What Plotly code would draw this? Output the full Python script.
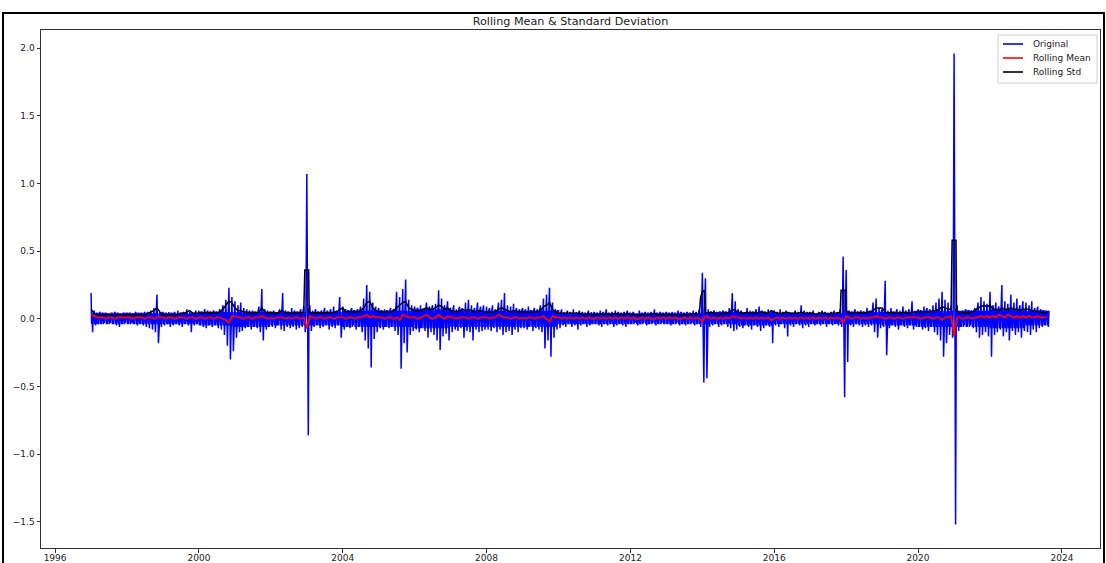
import pandas as pd
import plotly.graph_objects as go

# ---------------- data ----------------
months = pd.date_range("1997-01-01", "2023-08-01", freq="MS")

# monthly upper excursion of the Original series
orig_high = [
    0.19, 0.06, 0.04, 0.05, 0.04, 0.04, 0.03, 0.04, 0.05, 0.04, 0.03, 0.04,  # 1997
    0.04, 0.04, 0.03, 0.05, 0.04, 0.04, 0.05, 0.05, 0.06, 0.08, 0.18, 0.05,  # 1998
    0.05, 0.04, 0.05, 0.04, 0.05, 0.06, 0.04, 0.05, 0.07, 0.05, 0.04, 0.06,  # 1999
    0.06, 0.05, 0.07, 0.06, 0.05, 0.06, 0.05, 0.07, 0.10, 0.14, 0.23, 0.16,  # 2000
    0.13, 0.10, 0.12, 0.08, 0.07, 0.06, 0.06, 0.05, 0.09, 0.22, 0.07, 0.06,  # 2001
    0.05, 0.06, 0.05, 0.07, 0.19, 0.06, 0.05, 0.08, 0.06, 0.05, 0.07, 0.09,  # 2002
    1.07, 0.10, 0.06, 0.07, 0.05, 0.06, 0.08, 0.06, 0.07, 0.09, 0.06, 0.16,  # 2003
    0.09, 0.07, 0.06, 0.08, 0.06, 0.07, 0.09, 0.15, 0.25, 0.20, 0.12, 0.09,  # 2004
    0.08, 0.06, 0.07, 0.06, 0.08, 0.07, 0.20, 0.16, 0.22, 0.29, 0.14, 0.10,  # 2005
    0.09, 0.08, 0.10, 0.07, 0.12, 0.09, 0.10, 0.11, 0.21, 0.15, 0.10, 0.13,  # 2006
    0.08, 0.10, 0.07, 0.09, 0.08, 0.12, 0.14, 0.10, 0.08, 0.12, 0.09, 0.10,  # 2007
    0.09, 0.08, 0.10, 0.07, 0.12, 0.14, 0.19, 0.10, 0.09, 0.11, 0.08, 0.07,  # 2008
    0.08, 0.07, 0.09, 0.06, 0.08, 0.07, 0.10, 0.15, 0.18, 0.23, 0.12, 0.07,  # 2009
    0.06, 0.07, 0.05, 0.06, 0.05, 0.07, 0.05, 0.06, 0.05, 0.04, 0.06, 0.05,  # 2010
    0.05, 0.04, 0.06, 0.05, 0.07, 0.04, 0.05, 0.06, 0.05, 0.04, 0.05, 0.06,  # 2011
    0.04, 0.05, 0.04, 0.06, 0.04, 0.05, 0.04, 0.05, 0.07, 0.04, 0.05, 0.04,  # 2012
    0.05, 0.04, 0.05, 0.04, 0.06, 0.05, 0.04, 0.05, 0.04, 0.06, 0.05, 0.07,  # 2013
    0.34, 0.30, 0.07, 0.05, 0.06, 0.04, 0.05, 0.06, 0.05, 0.08, 0.19, 0.13,  # 2014
    0.07, 0.06, 0.05, 0.08, 0.06, 0.05, 0.07, 0.09, 0.06, 0.05, 0.07, 0.06,  # 2015
    0.06, 0.05, 0.07, 0.05, 0.06, 0.05, 0.04, 0.06, 0.05, 0.10, 0.06, 0.05,  # 2016
    0.05, 0.06, 0.04, 0.05, 0.06, 0.05, 0.04, 0.05, 0.06, 0.05, 0.07, 0.46,  # 2017
    0.36, 0.06, 0.05, 0.07, 0.05, 0.06, 0.05, 0.08, 0.06, 0.12, 0.15, 0.08,  # 2018
    0.07, 0.28, 0.06, 0.08, 0.05, 0.07, 0.06, 0.09, 0.06, 0.07, 0.13, 0.06,  # 2019
    0.07, 0.06, 0.09, 0.08, 0.07, 0.10, 0.12, 0.15, 0.20, 0.14, 0.12, 0.10,  # 2020
    1.96, 0.10, 0.06, 0.05, 0.07, 0.06, 0.05, 0.08, 0.12, 0.16, 0.13, 0.11,  # 2021
    0.20, 0.10, 0.12, 0.09, 0.25, 0.13, 0.11, 0.18, 0.12, 0.15, 0.10, 0.13,  # 2022
    0.12, 0.10, 0.13, 0.08, 0.09, 0.07, 0.06, 0.05,                          # 2023
]

# monthly lower excursion of the Original series
orig_low = [
    -0.10, -0.05, -0.04, -0.04, -0.03, -0.04, -0.03, -0.04, -0.05, -0.06, -0.04, -0.03,  # 1997
    -0.04, -0.03, -0.04, -0.05, -0.04, -0.05, -0.06, -0.07, -0.08, -0.10, -0.18, -0.06,  # 1998
    -0.05, -0.04, -0.06, -0.05, -0.04, -0.05, -0.06, -0.04, -0.05, -0.10, -0.05, -0.04,  # 1999
    -0.05, -0.06, -0.07, -0.05, -0.06, -0.05, -0.07, -0.08, -0.12, -0.20, -0.30, -0.24,  # 2000
    -0.14, -0.10, -0.09, -0.07, -0.06, -0.08, -0.06, -0.07, -0.10, -0.16, -0.08, -0.06,  # 2001
    -0.06, -0.07, -0.05, -0.08, -0.09, -0.06, -0.07, -0.06, -0.08, -0.07, -0.06, -0.10,  # 2002
    -0.86, -0.09, -0.06, -0.05, -0.07, -0.06, -0.05, -0.08, -0.06, -0.07, -0.05, -0.14,  # 2003
    -0.08, -0.06, -0.07, -0.05, -0.08, -0.06, -0.10, -0.16, -0.22, -0.36, -0.15, -0.10,  # 2004
    -0.07, -0.08, -0.06, -0.07, -0.06, -0.09, -0.12, -0.37, -0.18, -0.25, -0.12, -0.09,  # 2005
    -0.08, -0.10, -0.07, -0.09, -0.14, -0.10, -0.12, -0.16, -0.23, -0.13, -0.11, -0.16,  # 2006
    -0.10, -0.08, -0.09, -0.07, -0.14, -0.09, -0.10, -0.16, -0.08, -0.10, -0.09, -0.08,  # 2007
    -0.08, -0.09, -0.07, -0.10, -0.08, -0.12, -0.10, -0.09, -0.12, -0.08, -0.10, -0.07,  # 2008
    -0.07, -0.08, -0.06, -0.09, -0.07, -0.08, -0.10, -0.22, -0.16, -0.28, -0.14, -0.08,  # 2009
    -0.07, -0.05, -0.06, -0.04, -0.06, -0.05, -0.08, -0.05, -0.04, -0.06, -0.05, -0.04,  # 2010
    -0.04, -0.05, -0.06, -0.04, -0.05, -0.04, -0.06, -0.05, -0.04, -0.05, -0.06, -0.04,  # 2011
    -0.04, -0.03, -0.05, -0.04, -0.03, -0.05, -0.04, -0.03, -0.05, -0.04, -0.03, -0.04,  # 2012
    -0.04, -0.05, -0.04, -0.03, -0.05, -0.04, -0.05, -0.04, -0.03, -0.05, -0.04, -0.06,  # 2013
    -0.47, -0.44, -0.06, -0.05, -0.04, -0.06, -0.05, -0.04, -0.06, -0.07, -0.09, -0.08,  # 2014
    -0.06, -0.07, -0.05, -0.06, -0.08, -0.05, -0.06, -0.09, -0.07, -0.05, -0.06, -0.18,  # 2015
    -0.05, -0.06, -0.04, -0.07, -0.13, -0.05, -0.06, -0.04, -0.05, -0.07, -0.05, -0.06,  # 2016
    -0.04, -0.05, -0.04, -0.05, -0.04, -0.06, -0.04, -0.05, -0.04, -0.05, -0.06, -0.58,  # 2017
    -0.32, -0.05, -0.06, -0.04, -0.05, -0.06, -0.05, -0.06, -0.05, -0.10, -0.14, -0.07,  # 2018
    -0.06, -0.27, -0.07, -0.05, -0.06, -0.08, -0.05, -0.06, -0.07, -0.05, -0.08, -0.06,  # 2019
    -0.06, -0.08, -0.07, -0.09, -0.06, -0.10, -0.12, -0.16, -0.28, -0.18, -0.12, -0.14,  # 2020
    -1.52, -0.09, -0.06, -0.05, -0.06, -0.05, -0.07, -0.10, -0.14, -0.12, -0.10, -0.13,  # 2021
    -0.28, -0.12, -0.10, -0.08, -0.13, -0.10, -0.16, -0.09, -0.12, -0.10, -0.14, -0.09,  # 2022
    -0.10, -0.12, -0.08, -0.10, -0.07, -0.06, -0.05, -0.06,                              # 2023
]

# yearly dense core of the Original band (1997 .. 2023)
core_years = list(range(1997, 2024))
core_high = [0.04, 0.04, 0.04, 0.05, 0.05, 0.05, 0.05, 0.06, 0.06, 0.07, 0.06, 0.06, 0.06,
             0.04, 0.04, 0.04, 0.04, 0.05, 0.05, 0.04, 0.04, 0.05, 0.05, 0.06, 0.06, 0.07, 0.06]
core_low = [-0.04, -0.04, -0.04, -0.05, -0.06, -0.05, -0.05, -0.06, -0.06, -0.07, -0.06, -0.06, -0.06,
            -0.04, -0.04, -0.04, -0.04, -0.04, -0.05, -0.04, -0.04, -0.04, -0.05, -0.06, -0.06, -0.07, -0.05]

# monthly rolling mean
rolling_mean = [
    0.03, 0.02, 0.01, 0.01, 0.01, 0.00, 0.01, 0.01, 0.00, 0.01, 0.01, 0.01,  # 1997
    0.01, 0.01, 0.00, 0.01, 0.01, 0.01, 0.00, 0.01, 0.01, 0.00, 0.01, 0.01,  # 1998
    0.01, 0.00, 0.01, 0.01, 0.00, 0.01, 0.01, 0.01, 0.00, 0.01, 0.01, 0.00,  # 1999
    0.01, 0.01, 0.00, 0.01, 0.01, 0.00, 0.01, 0.01, 0.00, -0.01, -0.03, 0.02,  # 2000
    0.02, 0.01, 0.01, 0.00, 0.01, 0.01, 0.00, 0.01, 0.01, 0.02, 0.01, 0.00,  # 2001
    0.01, 0.00, 0.01, 0.01, 0.01, 0.00, 0.01, 0.00, 0.01, 0.01, 0.00, 0.01,  # 2002
    -0.07, 0.02, 0.01, 0.00, 0.01, 0.01, 0.00, 0.01, 0.01, 0.00, 0.01, 0.01,  # 2003
    0.01, 0.00, 0.01, 0.01, 0.00, 0.01, 0.01, 0.02, 0.03, 0.01, 0.02, 0.01,  # 2004
    0.01, 0.01, 0.00, 0.01, 0.01, 0.00, 0.01, -0.01, 0.03, 0.02, 0.01, 0.01,  # 2005
    0.01, 0.00, 0.01, 0.02, 0.03, 0.01, 0.00, 0.01, 0.03, 0.01, 0.00, 0.02,  # 2006
    0.01, 0.01, 0.00, 0.01, 0.01, 0.01, 0.00, 0.01, 0.01, 0.00, 0.01, 0.01,  # 2007
    0.01, 0.00, 0.01, 0.01, 0.03, 0.02, 0.01, 0.01, 0.00, 0.01, 0.01, 0.00,  # 2008
    0.01, 0.00, 0.01, 0.01, 0.00, 0.01, 0.01, 0.02, 0.00, -0.02, 0.02, 0.01,  # 2009
    0.01, 0.00, 0.01, 0.00, 0.01, 0.00, 0.01, 0.00, 0.01, 0.00, 0.01, 0.00,  # 2010
    0.00, 0.01, 0.00, 0.01, 0.00, 0.01, 0.00, 0.01, 0.00, 0.01, 0.00, 0.01,  # 2011
    0.00, 0.01, 0.00, 0.00, 0.01, 0.00, 0.01, 0.00, 0.00, 0.01, 0.00, 0.01,  # 2012
    0.00, 0.01, 0.00, 0.01, 0.00, 0.00, 0.01, 0.00, 0.01, 0.00, 0.01, 0.00,  # 2013
    -0.02, 0.02, 0.01, 0.00, 0.01, 0.00, 0.01, 0.00, 0.01, 0.00, 0.02, 0.01,  # 2014
    0.01, 0.00, 0.01, 0.00, 0.01, 0.00, 0.01, 0.00, 0.01, 0.00, 0.01, -0.01,  # 2015
    0.00, 0.01, 0.00, 0.01, 0.00, 0.01, 0.00, 0.01, 0.00, 0.01, 0.00, 0.01,  # 2016
    0.00, 0.01, 0.00, 0.01, 0.00, 0.01, 0.00, 0.01, 0.00, 0.01, 0.00, -0.03,  # 2017
    0.02, 0.01, 0.00, 0.01, 0.01, 0.00, 0.01, 0.00, 0.01, 0.01, 0.02, 0.01,  # 2018
    0.01, 0.00, 0.01, 0.01, 0.00, 0.01, 0.01, 0.00, 0.01, 0.01, 0.01, 0.01,  # 2019
    0.01, 0.00, 0.01, 0.01, 0.01, 0.00, 0.01, 0.01, -0.01, 0.01, 0.01, 0.02,  # 2020
    -0.13, 0.01, 0.01, 0.00, 0.01, 0.01, 0.00, 0.01, 0.01, 0.02, 0.01, 0.02,  # 2021
    0.01, 0.02, 0.01, 0.03, 0.02, 0.01, 0.03, 0.02, 0.01, 0.02, 0.01, 0.02,  # 2022
    0.01, 0.02, 0.01, 0.01, 0.02, 0.01, 0.01, 0.01,                          # 2023
]

# monthly rolling standard deviation
rolling_std = [
    0.07, 0.04, 0.03, 0.03, 0.03, 0.03, 0.03, 0.03, 0.03, 0.03, 0.03, 0.03,  # 1997
    0.03, 0.03, 0.03, 0.03, 0.03, 0.03, 0.03, 0.04, 0.05, 0.06, 0.08, 0.05,  # 1998
    0.03, 0.03, 0.03, 0.03, 0.03, 0.03, 0.04, 0.04, 0.05, 0.06, 0.04, 0.04,  # 1999
    0.04, 0.04, 0.04, 0.04, 0.04, 0.04, 0.04, 0.05, 0.07, 0.10, 0.13, 0.12,  # 2000
    0.08, 0.06, 0.06, 0.05, 0.05, 0.04, 0.04, 0.04, 0.05, 0.08, 0.05, 0.04,  # 2001
    0.04, 0.04, 0.04, 0.05, 0.06, 0.04, 0.04, 0.04, 0.04, 0.04, 0.04, 0.05,  # 2002
    0.36, 0.05, 0.04, 0.04, 0.04, 0.04, 0.04, 0.04, 0.04, 0.05, 0.05, 0.07,  # 2003
    0.08, 0.05, 0.05, 0.05, 0.05, 0.05, 0.06, 0.08, 0.12, 0.13, 0.08, 0.06,  # 2004
    0.05, 0.05, 0.05, 0.05, 0.05, 0.06, 0.08, 0.10, 0.12, 0.13, 0.08, 0.07,  # 2005
    0.06, 0.06, 0.06, 0.07, 0.08, 0.07, 0.07, 0.08, 0.10, 0.09, 0.07, 0.08,  # 2006
    0.06, 0.06, 0.05, 0.06, 0.07, 0.06, 0.07, 0.06, 0.05, 0.06, 0.06, 0.05,  # 2007
    0.05, 0.05, 0.05, 0.05, 0.07, 0.08, 0.07, 0.06, 0.05, 0.06, 0.05, 0.05,  # 2008
    0.05, 0.05, 0.05, 0.05, 0.05, 0.05, 0.06, 0.09, 0.10, 0.12, 0.07, 0.05,  # 2009
    0.04, 0.04, 0.04, 0.04, 0.04, 0.04, 0.04, 0.04, 0.03, 0.03, 0.04, 0.03,  # 2010
    0.03, 0.03, 0.04, 0.03, 0.04, 0.03, 0.03, 0.04, 0.03, 0.03, 0.03, 0.04,  # 2011
    0.03, 0.03, 0.03, 0.03, 0.03, 0.03, 0.03, 0.03, 0.04, 0.03, 0.03, 0.03,  # 2012
    0.03, 0.03, 0.03, 0.03, 0.03, 0.03, 0.03, 0.03, 0.03, 0.04, 0.03, 0.04,  # 2013
    0.20, 0.05, 0.04, 0.04, 0.04, 0.03, 0.03, 0.04, 0.04, 0.05, 0.07, 0.06,  # 2014
    0.05, 0.04, 0.04, 0.05, 0.04, 0.04, 0.04, 0.05, 0.05, 0.04, 0.04, 0.06,  # 2015
    0.05, 0.04, 0.04, 0.04, 0.05, 0.04, 0.04, 0.04, 0.04, 0.05, 0.04, 0.04,  # 2016
    0.04, 0.04, 0.03, 0.04, 0.04, 0.04, 0.03, 0.04, 0.04, 0.04, 0.05, 0.21,  # 2017
    0.06, 0.04, 0.04, 0.04, 0.04, 0.04, 0.04, 0.05, 0.05, 0.06, 0.08, 0.08,  # 2018
    0.08, 0.05, 0.04, 0.05, 0.04, 0.04, 0.04, 0.05, 0.04, 0.04, 0.05, 0.05,  # 2019
    0.05, 0.05, 0.05, 0.05, 0.05, 0.06, 0.06, 0.07, 0.09, 0.08, 0.07, 0.07,  # 2020
    0.58, 0.06, 0.04, 0.04, 0.04, 0.04, 0.05, 0.06, 0.08, 0.09, 0.10, 0.09,  # 2021
    0.10, 0.07, 0.07, 0.06, 0.08, 0.07, 0.07, 0.08, 0.07, 0.07, 0.06, 0.07,  # 2022
    0.07, 0.07, 0.06, 0.06, 0.05, 0.05, 0.04, 0.04,                          # 2023
]

# edges of the rolling-std plateaus that follow the large spikes
std_edge_dates = [
    "2002-12-12", "2003-01-20", "2003-01-25",
    "2013-12-14", "2014-01-20", "2014-01-28",
    "2017-11-10", "2017-12-20", "2017-12-26",
    "2020-12-12", "2021-01-20", "2021-01-26",
]
std_edge_values = [
    0.36, 0.36, 0.05,
    0.16, 0.21, 0.05,
    0.21, 0.21, 0.06,
    0.58, 0.58, 0.06,
]

series_names = ["Original", "Rolling Mean", "Rolling Std"]
series_colors = ["#0000ff", "#ff0000", "#000000"]
tick_years = [1996, 2000, 2004, 2008, 2012, 2016, 2020, 2024]
y_ticks = [-1.5, -1.0, -0.5, 0.0, 0.5, 1.0, 1.5, 2.0]

# ---------------- build series ----------------
assert len(orig_high) == len(months) == len(orig_low) == len(rolling_mean) == len(rolling_std)
assert len(core_years) == len(core_high) == len(core_low)
core_hi_map = dict(zip(core_years, core_high))
core_lo_map = dict(zip(core_years, core_low))

orig_x, orig_y = [], []
for d, h, l in zip(months, orig_high, orig_low):
    ch, cl = core_hi_map[d.year], core_lo_map[d.year]
    orig_x += [d, d + pd.Timedelta(days=5), d + pd.Timedelta(days=10),
               d + pd.Timedelta(days=15), d + pd.Timedelta(days=22)]
    orig_y += [h, cl, ch, l, ch]

std_all = pd.concat([
    pd.Series(rolling_std, index=months),
    pd.Series(std_edge_values, index=pd.to_datetime(std_edge_dates)),
]).sort_index()

fig = go.Figure()
fig.add_trace(go.Scatter(x=orig_x, y=orig_y, mode="lines", name=series_names[0],
                         line=dict(color=series_colors[0], width=1.5)))
fig.add_trace(go.Scatter(x=months, y=rolling_mean, mode="lines", name=series_names[1],
                         line=dict(color=series_colors[1], width=1.8)))
fig.add_trace(go.Scatter(x=std_all.index, y=std_all.values, mode="lines", name=series_names[2],
                         line=dict(color=series_colors[2], width=1.5)))

# plot area: x 41..1100, y 30..548
L, R, T, B = 41, 1100, 30, 548
W, H = 1106, 563
pw, ph = R - L, B - T

def px_x(p):
    return (p - L) / pw

def px_y(p):
    return (B - p) / ph

axis_common = dict(showgrid=False, zeroline=False, showline=True, mirror=True,
                   linecolor="#333333", linewidth=1, ticks="outside", ticklen=3.5,
                   tickwidth=0.8, tickcolor="#333333", automargin=False,
                   tickfont=dict(family="DejaVu Sans", size=9, color="#222222"))

# manual legend (matplotlib-like compact box)
shapes = [dict(type="rect", xref="paper", yref="paper",
               x0=px_x(998), x1=px_x(1097), y0=px_y(83), y1=px_y(35),
               line=dict(color="#cccccc", width=1), fillcolor="white", layer="above")]
annotations = []
for i, (name, col) in enumerate(zip(series_names, series_colors)):
    yy = 44 + 14 * i
    shapes.append(dict(type="line", xref="paper", yref="paper",
                       x0=px_x(1003), x1=px_x(1023), y0=px_y(yy), y1=px_y(yy),
                       line=dict(color=col, width=1.6), layer="above"))
    annotations.append(dict(text=name, xref="paper", yref="paper", x=px_x(1031), y=px_y(yy),
                            xanchor="left", yanchor="middle", showarrow=False,
                            font=dict(family="DejaVu Sans", size=9, color="#222222")))

# outer frame of the figure
shapes.append(dict(type="rect", xref="paper", yref="paper",
                   x0=px_x(3), x1=px_x(1104), y0=px_y(620), y1=px_y(13),
                   line=dict(color="#000000", width=2), fillcolor="rgba(0,0,0,0)",
                   layer="above"))

fig.update_layout(
    width=W, height=H,
    margin=dict(l=L, r=W - R, t=T, b=H - B, autoexpand=False),
    paper_bgcolor="white", plot_bgcolor="white",
    font=dict(family="DejaVu Sans", size=9, color="#222222"),
    title=dict(text="Rolling Mean & Standard Deviation", x=0.5, xref="paper",
               y=1 - 21 / H, yref="container", xanchor="center", yanchor="middle",
               font=dict(family="DejaVu Sans", size=11.2, color="#222222")),
    xaxis=dict(type="date", range=["1995-08-11", "2025-01-22"],
               tickvals=[f"{y}-01-01" for y in tick_years],
               ticktext=[str(y) for y in tick_years], ticklabelstandoff=-2,
               **axis_common),
    yaxis=dict(range=[-1.694, 2.134], tickvals=y_ticks,
               ticktext=[f"{v:.1f}".replace("-", "\u2212") for v in y_ticks], **axis_common),
    showlegend=False,
    shapes=shapes,
    annotations=annotations,
)

fig.write_html("out.html")
